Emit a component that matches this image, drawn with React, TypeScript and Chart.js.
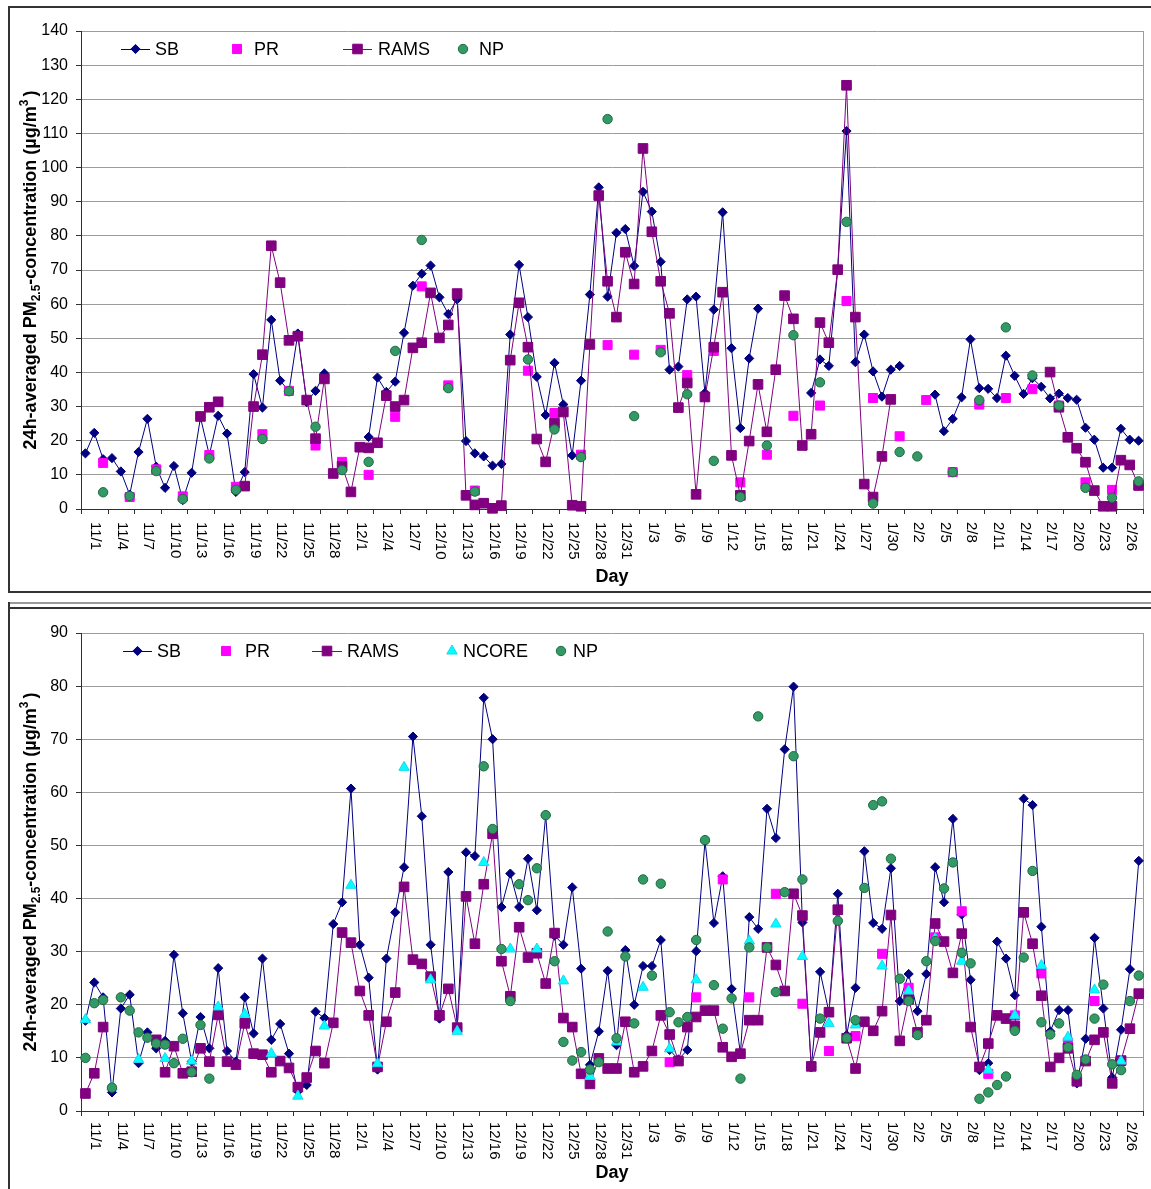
import React, { useEffect, useRef } from 'react';
import { Chart, registerables } from 'chart.js';

Chart.register(...registerables);

const _ = null;

// Categories: every day from 10/31 to 2/27 (120 days)
const MONTH_RANGES: [number, number, number][] = [
  [10, 31, 31],
  [11, 1, 30],
  [12, 1, 31],
  [1, 1, 31],
  [2, 1, 27],
];
function buildDays(): string[] {
  const out: string[] = [];
  for (const [m, a, b] of MONTH_RANGES) for (let d = a; d <= b; d++) out.push(`${m}/${d}`);
  return out;
}
const DAYS = buildDays();
// a tick label is shown on every third day, starting with 11/1
const LABEL_EVERY = 3;
const LABEL_PHASE = 1;

const TOP_Y_TICKS = { max: 140, step: 10 };
const BOT_Y_TICKS = { max: 90, step: 10 };

// ---------- Top panel ----------
const TOP_SB = [
  16.3, 22.3, 14.6, 14.9, 11.0, 4.2, 16.7, 26.4, 12.4, 6.2,
  12.6, 2.6, 10.6, 26.8, 15.8, 27.3, 22.1, 5.0, 10.8, 39.5,
  29.7, 55.4, 37.6, 34.5, 51.4, 31.3, 34.6, 39.7, _, _,
  _, _, 21.1, 38.5, 34.3, 37.3, 51.6, 65.4, 68.9, 71.3,
  62.0, 57.1, 61.4, 19.9, 16.3, 15.4, 12.7, 13.2, 51.1, 71.5,
  56.2, 38.7, 27.5, 42.8, 30.6, 15.7, 37.6, 62.8, 94.2, 62.2,
  80.9, 82.0, 71.2, 92.9, 87.1, 72.4, 40.8, 41.7, 61.4, 62.2,
  34.0, 58.4, 86.9, 47.1, 23.7, 44.1, 58.7, _, _, _,
  _, _, 34.0, 43.8, 41.9, 70.0, 110.7, 43.0, 51.1, 40.3,
  32.9, 40.8, 41.9, _, _, _, 33.5, 22.8, 26.4, 32.7,
  49.7, 35.4, 35.2, 32.5, 44.9, 39.0, 33.7, 38.3, 35.8, 32.4,
  33.8, 32.5, 32.0, 23.8, 20.3, 12.1, 12.1, 23.5, 20.3, 20.0,
];
const TOP_PR = [
  _, _, 13.5, _, _, 3.5, _, _, 11.6, _,
  _, 3.7, _, _, 15.8, _, _, 6.5, _, _,
  21.9, _, _, 34.6, _, _, 18.6, _, _, 13.8,
  _, _, 10.0, _, _, 27.0, _, _, 65.2, _,
  _, 36.2, _, _, 5.4, _, _, _, _, _,
  40.5, _, _, 28.1, _, _, 15.9, _, _, 48.0,
  _, _, 45.2, _, _, 46.6, _, _, 39.2, _,
  _, 46.3, _, _, 7.8, _, _, 15.9, _, _,
  27.3, _, _, 30.3, _, _, 60.9, _, _, 32.5,
  _, _, 21.3, _, _, 31.9, _, _, 10.8, _,
  _, 30.6, _, _, 32.5, _, _, 35.1, _, _,
  30.3, _, _, 7.8, _, _, 5.6, _, _, 6.9,
];
const TOP_RAMS = [
  _, _, _, _, _, _, _, _, _, _,
  _, _, _, 27.1, 29.8, 31.4, _, _, 6.7, 30.0,
  45.2, 77.1, 66.3, 49.4, 50.6, 31.9, 20.6, 38.1, 10.4, 12.5,
  5.0, 18.1, 17.9, 19.4, 33.2, 30.0, 31.9, 47.2, 48.7, 63.3,
  50.1, 53.9, 63.1, 4.0, 1.2, 1.7, 0.2, 1.0, 43.6, 60.4,
  47.4, 20.5, 13.8, 25.1, 28.4, 1.1, 0.8, 48.2, 91.8, 66.7,
  56.2, 75.2, 65.9, 105.6, 81.2, 66.7, 57.3, 29.7, 36.9, 4.3,
  32.8, 47.4, 63.5, 15.7, 4.0, 19.9, 36.5, 22.6, 40.8, 62.5,
  55.7, 18.6, 21.9, 54.6, 48.7, 70.1, 124.1, 56.2, 7.3, 3.5,
  15.4, 32.1, _, _, _, _, _, _, _, _,
  _, _, _, _, _, _, _, _, _, 40.1,
  29.8, 21.0, 17.8, 13.7, 5.4, 0.8, 0.8, 14.3, 12.9, 6.9,
];
const TOP_NP = [
  _, _, 4.9, _, _, 3.8, _, _, 11.1, _,
  _, 2.9, _, _, 14.8, _, _, 5.6, _, _,
  20.5, _, _, 34.5, _, _, 24.1, _, _, 11.4,
  _, _, 13.8, _, _, 46.3, _, _, 78.8, _,
  _, 35.4, _, _, 5.1, _, _, _, _, _,
  43.8, _, _, 23.3, _, _, 15.2, _, _, 114.2,
  _, _, 27.2, _, _, 45.9, _, _, 33.6, _,
  _, 14.1, _, _, 3.5, _, _, 18.6, _, _,
  50.9, _, _, 37.1, _, _, 84.1, _, _, 1.6,
  _, _, 16.7, _, 15.4, _, _, _, 10.8, _,
  _, 31.9, _, _, 53.2, _, _, 39.1, _, _,
  30.3, _, _, 6.2, _, _, 3.3, _, _, 8.1,
];

// ---------- Bottom panel ----------
const BOT_SB = [
  17.0, 24.2, 21.4, 3.5, 19.3, 21.9, 9.0, 14.8, 11.8, 13.2,
  29.4, 18.4, 9.3, 17.7, 11.8, 26.9, 11.3, 9.3, 21.4, 14.6,
  28.7, 13.4, 16.4, 10.8, 3.7, 4.9, 18.7, 17.5, 35.2, 39.3,
  60.7, 31.3, 25.1, 7.8, 28.7, 37.4, 45.9, 70.5, 55.5, 31.3,
  17.4, 45.0, 15.7, 48.7, 48.0, 77.8, 70.0, 38.4, 44.7, 38.4,
  47.5, 37.8, 55.7, 33.0, 31.3, 42.1, 26.8, 8.7, 15.0, 26.4,
  12.4, 30.3, 20.0, 27.3, 27.3, 32.2, 11.5, 9.7, 11.5, 30.1,
  50.8, 35.4, 44.2, 23.0, 10.8, 36.5, 34.3, 56.9, 51.4, 68.1,
  79.9, 35.5, 8.2, 26.2, 18.6, 40.9, 14.3, 23.2, 48.9, 35.4,
  34.3, 45.7, 20.7, 25.8, 18.8, 25.8, 45.9, 39.3, 55.0, 37.0,
  24.7, 7.7, 9.0, 31.9, 28.7, 21.8, 58.8, 57.6, 34.7, 15.0,
  19.0, 19.0, 5.2, 13.6, 32.6, 19.3, 6.3, 15.3, 26.7, 47.1,
];
const BOT_PR = [
  _, _, _, _, _, _, _, _, _, _,
  _, _, _, _, _, _, _, _, _, _,
  _, _, _, _, _, _, _, _, _, _,
  _, _, _, _, _, _, _, _, _, _,
  _, _, _, _, _, _, _, _, _, _,
  _, _, _, _, _, _, _, _, _, _,
  _, _, _, _, _, _, 9.2, _, _, 21.4,
  _, _, 43.6, _, _, 21.4, _, _, 40.9, _,
  _, 20.2, _, _, 11.3, _, _, 14.1, _, _,
  29.6, _, _, 23.2, _, _, 32.7, _, _, 37.6,
  _, _, 7.0, _, _, 18.0, _, _, 25.9, _,
  _, 12.9, _, _, 20.7, _, _, 9.4, _, _,
];
const BOT_RAMS = [
  3.3, 7.1, 15.8, _, _, _, _, _, 13.4, 7.3,
  12.2, 7.1, 7.4, 11.8, 9.3, 18.1, 9.3, 8.7, 16.5, 10.8,
  10.6, 7.3, 9.4, 8.1, 4.5, 6.3, 11.3, 9.0, 16.6, 33.6,
  31.7, 22.6, 18.0, 8.3, 16.8, 22.3, 42.2, 28.5, 27.7, 25.3,
  18.0, 23.0, 15.7, 40.4, 31.5, 42.7, 52.2, 28.2, 21.6, 34.6,
  28.9, 29.7, 24.0, 33.5, 17.5, 15.8, 7.0, 5.1, 9.9, 8.0,
  8.0, 16.8, 7.3, 8.4, 11.3, 18.0, 14.4, 9.4, 15.8, 17.7,
  18.9, 18.9, 12.0, 10.2, 10.8, 17.1, 17.1, 30.8, 27.5, 22.6,
  40.9, 36.8, 8.4, 14.8, 18.6, 37.9, 13.7, 8.0, 16.8, 15.1,
  18.8, 36.9, 13.2, 21.0, 14.8, 17.1, 35.3, 31.9, 26.0, 33.4,
  15.8, 8.3, 12.7, 18.0, 17.4, 16.0, 37.4, 31.5, 21.7, 8.3,
  10.0, 11.8, 5.6, 9.4, 13.4, 14.8, 5.2, 9.5, 15.5, 22.1,
];
const BOT_NCORE = [
  17.2, _, _, 4.5, _, _, 9.7, _, _, 9.9,
  _, _, 9.4, _, _, 19.6, _, _, 18.2, _,
  _, 10.8, _, _, 2.8, _, _, 16.0, _, _,
  42.5, _, _, 8.9, _, _, 64.7, _, _, 24.7,
  _, _, 15.0, _, _, 46.8, _, _, 30.5, _,
  _, 30.5, _, _, 24.5, _, _, 6.5, _, _,
  13.0, _, _, 23.3, _, _, 11.7, _, _, 24.7,
  _, _, _, _, _, 32.0, _, _, 35.2, _,
  _, 29.1, _, _, 16.5, _, _, 16.2, _, _,
  27.3, _, _, 22.6, _, _, 32.5, _, _, 28.2,
  _, _, 7.7, _, _, 18.0, _, _, 27.4, _,
  _, 13.9, _, _, 22.8, _, _, 9.4, _, _,
];
const BOT_NP = [
  10.0, 20.3, 20.9, 4.4, 21.4, 18.9, 14.8, 13.8, 12.7, 12.5,
  9.0, 13.6, 7.3, 16.2, 6.1, _, _, _, _, _,
  _, _, _, _, _, _, _, _, _, _,
  _, _, _, _, _, _, _, _, _, _,
  _, _, _, _, _, 64.9, 53.1, 30.5, 20.7, 42.7,
  39.7, 45.7, 55.7, 28.2, 13.0, 9.5, 11.1, 7.8, 9.2, 33.8,
  13.7, 29.1, 16.5, 43.6, 25.5, 42.8, 18.6, 16.7, 17.7, 32.2,
  51.0, 23.7, 15.5, 21.2, 6.1, 30.8, 74.3, 30.8, 22.4, 41.2,
  66.8, 43.6, _, 17.4, _, 35.8, 13.7, 17.1, 42.0, 57.6,
  58.3, 47.5, 24.9, 20.7, 14.3, 28.2, 32.0, 41.9, 46.8, 29.8,
  27.8, 2.3, 3.5, 4.9, 6.5, 15.1, 28.9, 45.2, 16.7, 14.4,
  16.5, 12.0, 6.8, 9.7, 17.4, 23.8, 8.8, 7.7, 20.7, 25.5,
];

// ---------- styles ----------
const FONT = '"Liberation Sans", Arial, sans-serif';
const GRID = '#9C9C9C';
const AXIS = '#303030';

type Kind = 'SB' | 'PR' | 'RAMS' | 'NCORE' | 'NP';
const STYLE: Record<Kind, any> = {
  SB: { line: true, color: '#000080', point: 'rectRot', r: 4.6, fill: '#000080', stroke: '#000080', order: 5 },
  PR: { line: false, color: '#FF00FF', point: 'rect', r: 6.4, fill: '#FF00FF', stroke: '#FF00FF', order: 4 },
  RAMS: { line: true, color: '#800080', point: 'rect', r: 6.8, fill: '#800080', stroke: '#800080', order: 3 },
  NCORE: { line: false, color: '#00FFFF', point: 'triangle', r: 6, fill: '#00FFFF', stroke: '#19D6F0', order: 2 },
  NP: { line: false, color: '#339966', point: 'circle', r: 4.7, fill: '#339966', stroke: '#1D6B3C', order: 1 },
};

type LegendItem = { kind: Kind; label: string; marker: number; line?: [number, number]; text: number };

function drawMarker(ctx: CanvasRenderingContext2D, kind: Kind, x: number, y: number) {
  const s = STYLE[kind];
  const r = s.r;
  ctx.save();
  ctx.fillStyle = s.fill;
  ctx.strokeStyle = s.stroke;
  ctx.lineWidth = 1;
  ctx.beginPath();
  if (s.point === 'rectRot') {
    ctx.moveTo(x, y - r);
    ctx.lineTo(x + r, y);
    ctx.lineTo(x, y + r);
    ctx.lineTo(x - r, y);
    ctx.closePath();
  } else if (s.point === 'rect') {
    const h = r * Math.SQRT1_2;
    ctx.rect(x - h, y - h, 2 * h, 2 * h);
  } else if (s.point === 'circle') {
    ctx.arc(x, y, r, 0, Math.PI * 2);
  } else if (s.point === 'triangle') {
    ctx.moveTo(x, y - r);
    ctx.lineTo(x + r * Math.sin((2 * Math.PI) / 3), y + r / 2);
    ctx.lineTo(x - r * Math.sin((2 * Math.PI) / 3), y + r / 2);
    ctx.closePath();
  }
  ctx.fill();
  ctx.stroke();
  ctx.restore();
}

function drawYTitle(ctx: CanvasRenderingContext2D, bx: number, cy: number) {
  const big = `bold 18px ${FONT}`;
  const small = `bold 12px ${FONT}`;
  const parts: [string, string, number, number][] = [
    ['24h-averaged PM', big, 0, 0],
    ['2.5', small, 4, 0],
    ['-concentration (µg/m', big, 0, 0],
    ['3', small, -8, 0],
    [')', big, 0, 3],
  ];
  let total = 0;
  for (const [t, f, , gap] of parts) {
    ctx.font = f;
    total += ctx.measureText(t).width + gap;
  }
  ctx.save();
  ctx.translate(bx, cy);
  ctx.rotate(-Math.PI / 2);
  ctx.fillStyle = '#000';
  ctx.textAlign = 'left';
  ctx.textBaseline = 'alphabetic';
  let x = -total / 2;
  for (const [t, f, dy, gap] of parts) {
    ctx.font = f;
    x += gap;
    ctx.fillText(t, x, dy);
    x += ctx.measureText(t).width;
  }
  ctx.restore();
}

type PanelProps = {
  left: number;
  top: number;
  width: number;
  height: number;
  padTop: number;
  padRight: number;
  yWidth: number;
  xHeight: number;
  yMax: number;
  yStep: number;
  series: { kind: Kind; label: string; data: (number | null)[] }[];
  legend: LegendItem[];
  legendDy: number;
  labelGap: number;
  titleGap: number;
};

function Panel(p: PanelProps) {
  const ref = useRef<HTMLCanvasElement | null>(null);
  useEffect(() => {
    const canvas = ref.current;
    if (!canvas) return;
    const decor = {
      id: 'decor',
      beforeDatasetsDraw(chart: any) {
        const { ctx, chartArea: a } = chart;
        ctx.save();
        ctx.strokeStyle = GRID;
        ctx.lineWidth = 1;
        ctx.beginPath();
        const rx = Math.round(a.right) + 0.5;
        ctx.moveTo(rx, a.top);
        ctx.lineTo(rx, a.bottom);
        ctx.stroke();
        ctx.restore();
      },
      afterDraw(chart: any) {
        const { ctx, chartArea: a, scales } = chart;
        const xs = scales.x;
        ctx.save();
        // category group tick marks
        ctx.strokeStyle = AXIS;
        ctx.lineWidth = 1;
        ctx.beginPath();
        const groups = Math.round(DAYS.length / LABEL_EVERY);
        for (let k = 0; k <= groups; k++) {
          const x = Math.round(a.left + ((a.right - a.left) * k) / groups) + 0.5;
          ctx.moveTo(x, a.bottom);
          ctx.lineTo(x, a.bottom + 5);
        }
        ctx.stroke();
        // rotated day labels (reading top to bottom)
        ctx.fillStyle = '#000';
        ctx.font = `15px ${FONT}`;
        ctx.textAlign = 'left';
        ctx.textBaseline = 'alphabetic';
        DAYS.forEach((d, i) => {
          if (i % LABEL_EVERY !== LABEL_PHASE) return;
          const x = xs.getPixelForValue(i);
          ctx.save();
          ctx.translate(x - 3, a.bottom + p.labelGap);
          ctx.rotate(Math.PI / 2);
          ctx.fillText(d, 0, 0);
          ctx.restore();
        });
        // x title
        ctx.font = `bold 18px ${FONT}`;
        ctx.textAlign = 'center';
        ctx.textBaseline = 'middle';
        ctx.fillText('Day', (a.left + a.right) / 2, a.bottom + p.titleGap);
        // y title
        drawYTitle(ctx, a.left - 45, (a.top + a.bottom) / 2);
        // legend
        const ly = a.top + p.legendDy;
        for (const it of p.legend) {
          const s = STYLE[it.kind];
          if (it.line) {
            ctx.strokeStyle = s.color;
            ctx.lineWidth = 1;
            ctx.beginPath();
            ctx.moveTo(a.left + it.line[0], Math.round(ly) + 0.5);
            ctx.lineTo(a.left + it.line[1], Math.round(ly) + 0.5);
            ctx.stroke();
          }
          drawMarker(ctx, it.kind, a.left + it.marker, ly);
          ctx.fillStyle = '#000';
          ctx.font = `18px ${FONT}`;
          ctx.textAlign = 'left';
          ctx.textBaseline = 'middle';
          ctx.fillText(it.label, a.left + it.text, ly + 1);
        }
        ctx.restore();
      },
    };

    const datasets = p.series.map((s) => {
      const st = STYLE[s.kind];
      return {
        label: s.label,
        data: s.data,
        order: st.order,
        showLine: st.line,
        borderColor: st.color,
        backgroundColor: st.fill,
        borderWidth: 1,
        pointStyle: st.point,
        pointRadius: st.r,
        pointHoverRadius: st.r,
        pointBackgroundColor: st.fill,
        pointBorderColor: st.stroke,
        pointBorderWidth: 1,
        spanGaps: false,
        tension: 0,
        clip: false,
      };
    });

    const chart = new Chart(canvas, {
      type: 'line',
      data: { labels: DAYS, datasets: datasets as any },
      options: {
        responsive: false,
        animation: false,
        devicePixelRatio: 1,
        events: [],
        layout: { padding: { top: p.padTop, right: p.padRight, left: 0, bottom: 0 } },
        plugins: { legend: { display: false }, tooltip: { enabled: false }, title: { display: false } },
        scales: {
          x: {
            type: 'category',
            offset: true,
            grid: { display: false },
            ticks: { display: false },
            border: { display: true, color: AXIS, width: 1 },
            afterFit: (s: any) => {
              s.height = p.xHeight;
            },
          },
          y: {
            min: 0,
            max: p.yMax,
            ticks: { stepSize: p.yStep, color: '#000', font: { family: FONT, size: 16 }, padding: 8 },
            grid: {
              color: (c: any) => (c.tick && c.tick.value === 0 ? 'rgba(0,0,0,0)' : GRID),
              lineWidth: 1,
              tickLength: 5,
              tickColor: AXIS,
              drawTicks: true,
            },
            border: { display: true, color: AXIS, width: 1 },
            afterFit: (s: any) => {
              s.width = p.yWidth;
            },
          },
        },
      } as any,
      plugins: [decor],
    });
    return () => chart.destroy();
  }, []);
  return (
    <canvas
      ref={ref}
      width={p.width}
      height={p.height}
      style={{ position: 'absolute', left: p.left, top: p.top, width: p.width, height: p.height }}
    />
  );
}

const TOP_LEGEND: LegendItem[] = [
  { kind: 'SB', label: 'SB', marker: 54.5, line: [40, 69], text: 74 },
  { kind: 'PR', label: 'PR', marker: 156, text: 173 },
  { kind: 'RAMS', label: 'RAMS', marker: 276.5, line: [262, 291], text: 297 },
  { kind: 'NP', label: 'NP', marker: 382, text: 398 },
];
const BOT_LEGEND: LegendItem[] = [
  { kind: 'SB', label: 'SB', marker: 56.5, line: [42, 71], text: 76 },
  { kind: 'PR', label: 'PR', marker: 145, text: 164 },
  { kind: 'RAMS', label: 'RAMS', marker: 246, line: [231, 261], text: 266 },
  { kind: 'NCORE', label: 'NCORE', marker: 371, text: 382 },
  { kind: 'NP', label: 'NP', marker: 480, text: 492 },
];

export default function App() {
  return (
    <div
      style={{
        position: 'absolute',
        left: 0,
        top: 0,
        width: 1151,
        height: 1189,
        overflow: 'hidden',
        background: '#fff',
      }}
    >
      <div
        style={{
          position: 'absolute',
          left: 8,
          top: 6,
          width: 1170,
          height: 587,
          border: '2px solid #333',
          boxSizing: 'border-box',
        }}
      />
      <div style={{ position: 'absolute', left: 8, top: 602, width: 1170, height: 2, background: '#9a9a9a' }} />
      <div style={{ position: 'absolute', left: 8, top: 602, width: 2, height: 620, background: '#333' }} />
      <div style={{ position: 'absolute', left: 8, top: 607, width: 1170, height: 2, background: '#333' }} />
      <Panel
        left={10}
        top={9}
        width={1141}
        height={582}
        padTop={22}
        padRight={8}
        yWidth={71}
        xHeight={82}
        yMax={TOP_Y_TICKS.max}
        yStep={TOP_Y_TICKS.step}
        series={[
          { kind: 'SB', label: 'SB', data: TOP_SB },
          { kind: 'PR', label: 'PR', data: TOP_PR },
          { kind: 'RAMS', label: 'RAMS', data: TOP_RAMS },
          { kind: 'NP', label: 'NP', data: TOP_NP },
        ]}
        legend={TOP_LEGEND}
        legendDy={18}
        labelGap={13}
        titleGap={68}
      />
      <Panel
        left={10}
        top={610}
        width={1141}
        height={579}
        padTop={23}
        padRight={7}
        yWidth={71}
        xHeight={78}
        yMax={BOT_Y_TICKS.max}
        yStep={BOT_Y_TICKS.step}
        series={[
          { kind: 'SB', label: 'SB', data: BOT_SB },
          { kind: 'PR', label: 'PR', data: BOT_PR },
          { kind: 'RAMS', label: 'RAMS', data: BOT_RAMS },
          { kind: 'NCORE', label: 'NCORE', data: BOT_NCORE },
          { kind: 'NP', label: 'NP', data: BOT_NP },
        ]}
        legend={BOT_LEGEND}
        legendDy={18}
        labelGap={11}
        titleGap={62}
      />
    </div>
  );
}
